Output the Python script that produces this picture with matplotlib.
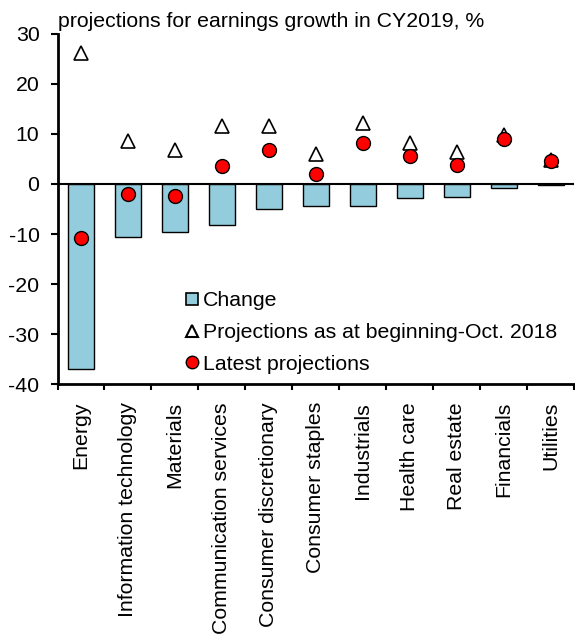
import numpy as np
import matplotlib.pyplot as plt
from matplotlib.lines import Line2D

plt.rcParams['font.family'] = ['Liberation Sans', 'DejaVu Sans']
plt.rcParams['axes.unicode_minus'] = False

sectors = ['Energy', 'Information technology', 'Materials', 'Communication services',
           'Consumer discretionary', 'Consumer staples', 'Industrials', 'Health care',
           'Real estate', 'Financials', 'Utilities']
change = [-37.0, -10.5, -9.6, -8.3, -5.0, -4.4, -4.4, -2.8, -2.6, -0.8, -0.3]
prior = [26.2, 8.5, 6.8, 11.5, 11.6, 6.0, 12.1, 8.1, 6.3, 9.8, 4.8]
latest = [-10.7, -2.0, -2.5, 3.5, 6.8, 2.0, 8.1, 5.6, 3.8, 9.0, 4.5]

bar_col = '#93CDDD'
fs = 15.3

fig = plt.figure(figsize=(5.75, 6.34), dpi=100)
ax = fig.add_axes([0.1, 0.3943, 0.899, 0.5521])

x = np.arange(len(sectors))
ax.bar(x, change, width=0.57, color=bar_col, edgecolor='black', linewidth=1.0, zorder=2)
ax.axhline(0, color='black', lw=1.5, zorder=3)
ax.plot(x, prior, ls='none', marker='^', ms=9.5, mfc='white', mec='black', mew=1.2, zorder=4)
ax.plot(x, latest, ls='none', marker='o', ms=10, mfc='#FF0000', mec='black', mew=1.0, zorder=5)

ax.set_xlim(-0.5, len(sectors) - 0.5)
ax.set_ylim(-40, 30)
ax.set_yticks(range(-40, 31, 10))
# ticks sit between sectors, names are centred on the bars
ax.set_xticks(np.arange(len(sectors) + 1) - 0.5, minor=False)
ax.set_xticklabels([])
ax.set_xticks(x, minor=True)
ax.set_xticklabels(sectors, minor=True, rotation=90, fontsize=fs, va='top', ha='center')
ax.tick_params(axis='x', which='minor', length=0, pad=13)
ax.tick_params(axis='x', which='major', length=4.5, width=1.5, direction='out')
ax.tick_params(axis='y', length=5, width=1.5, pad=8, labelsize=fs)

for s in ['top', 'right']:
    ax.spines[s].set_visible(False)
for s in ['left', 'bottom']:
    ax.spines[s].set_linewidth(2)

handles = [
    Line2D([], [], ls='none', marker='s', ms=8, mfc=bar_col, mec='black', mew=1.2),
    Line2D([], [], ls='none', marker='^', ms=8, mfc='white', mec='black', mew=1.5),
    Line2D([], [], ls='none', marker='o', ms=9, mfc='#FF0000', mec='black', mew=1.0),
]
labels = ['Change', 'Projections as at beginning-Oct. 2018', 'Latest projections']
ax.legend(handles, labels, loc='lower left', bbox_to_anchor=(0.247, 0.029), frameon=False,
          fontsize=fs, handlelength=0.6, handletextpad=0.25, labelspacing=0.6,
          borderpad=0, borderaxespad=0)

fig.text(58 / 575, 1 - 27 / 634, 'projections for earnings growth in CY2019, %',
         fontsize=fs, va='baseline', ha='left')

fig.savefig('out.png', dpi=100)
